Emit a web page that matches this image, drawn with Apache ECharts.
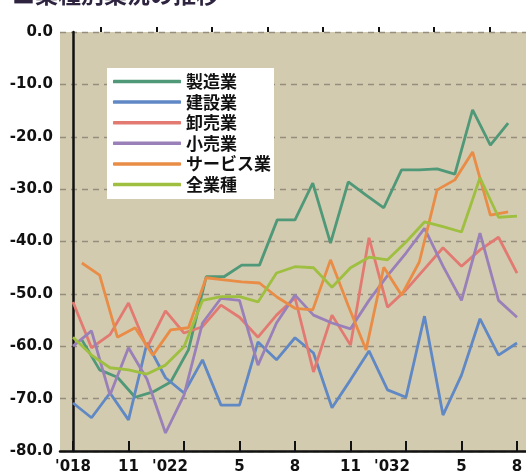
<!DOCTYPE html>
<html><head><meta charset="utf-8">
<script src="https://cdn.jsdelivr.net/npm/echarts@6/dist/echarts.min.js"></script>
<style>html,body{margin:0;padding:0;background:#fff}#c{width:526px;height:475px}</style>
</head><body><div id="c"></div>
<script>
const months = ['2001/08','2001/09','2001/10','2001/11','2001/12','2002/01','2002/02','2002/03','2002/04','2002/05','2002/06','2002/07','2002/08','2002/09','2002/10','2002/11','2002/12','2003/01','2003/02','2003/03','2003/04','2003/05','2003/06','2003/07','2003/08'];
const tickLabels = ["'018","11","'022","5","8","11","'032","5","8"];
const seriesNames = ['製造業','建設業','卸売業','小売業','サービス業','全業種'];

const manufacturing = [-58.5,-64.2,-65.6,-69.4,-68.4,-66.5,-60.4,-46.5,-46.5,-44.3,-44.3,-35.7,-35.7,-28.7,-40.1,-28.5,-31,-33.4,-26.2,-26.2,-26,-27,-14.8,-21.5,-17.3];
const construction = [-70.5,-73.3,-68.6,-73.7,-59.1,-65.7,-68.6,-62.3,-70.9,-70.9,-58.9,-62.3,-58.1,-61,-71.4,-66.1,-60.6,-68,-69.4,-54,-72.8,-65.2,-54.5,-61.4,-59.1];
const wholesale = [-51.3,-60,-57.5,-51.5,-60,-53,-57.2,-56,-51.9,-54.2,-58,-53.8,-50.5,-64.6,-53.8,-59.5,-39.1,-52.3,-49,-45,-41,-44.5,-41.4,-39,-45.8];
const retail = [-59.7,-56.8,-69,-60,-66,-76.2,-69,-55.3,-50.6,-51,-63.3,-55.3,-50,-53.8,-55.3,-56.4,-51,-46.3,-42,-37.3,-44.5,-51,-38.2,-51,-54.2];
const services = [-43.9,-46.2,-58,-56.2,-61.4,-56.6,-56.2,-46.7,-47.1,-47.5,-47.7,-50.4,-52.5,-52.8,-43.3,-52,-60.4,-44.7,-50,-43.7,-30,-28.1,-22.8,-34.8,-34.2];
const allIndustries = [-58,-61.4,-63.8,-64.2,-65,-63.3,-59.8,-51,-50.3,-50.3,-51.3,-45.8,-44.6,-44.8,-48.5,-44.8,-42.8,-43.3,-39.9,-36.1,-37,-38,-27.7,-35.2,-35];

const colors = ['#4f9878','#5f88c4','#e27a72','#9a80b9','#e98c46','#9ebf40'];

const majorTicks = [0,3,6,9,12,15,18,21,24];
const minorTicks = [1.5,4.5,7.5,10.5,13.5,16.5,19.5,22.5];

const chart = echarts.init(document.getElementById('c'));
const cjk = '"Noto Sans CJK JP", sans-serif';
const numFont = '"DejaVu Sans", sans-serif';

function lineSeries(name, data, color, xi) {
  return {
    name, type: 'line', data, xAxisIndex: xi, yAxisIndex: 1,
    symbol: 'none', lineStyle: { color, width: 2.8 }, itemStyle: { color },
    animation: false
  };
}

chart.setOption({
  animation: false,
  graphic: [{
    type: 'text', x: 12, y: -17,
    style: { text: '■業種別業況の推移', fill: '#2e2440', font: 'bold 23px ' + cjk, textVerticalAlign: 'top' }
  }],
  grid: [
    { left: 60, right: 0, top: 32, bottom: 22, show: true, backgroundColor: '#d3cbb0', borderWidth: 0 },
    { left: 73, right: 9, top: 32, bottom: 22 }
  ],
  legend: {
    left: 107, top: 68, orient: 'vertical',
    backgroundColor: '#ffffff', padding: [5, 3, 6, 6],
    itemWidth: 68, itemHeight: 3.5, itemGap: 3.6, icon: 'roundRect',
    textStyle: { color: '#111', fontSize: 17, fontWeight: 'bold', fontFamily: cjk, lineHeight: 17 },
    data: seriesNames
  },
  xAxis: [
    {
      type: 'value', gridIndex: 0, position: 'bottom', min: -13 / 18.5, max: 453 / 18.5,
      axisLine: { show: true, onZero: false, lineStyle: { color: '#111', width: 2.5 } },
      axisTick: { show: true, inside: true, length: 10, customValues: majorTicks, lineStyle: { color: '#111', width: 2 } },
      axisLabel: {
        show: true, customValues: majorTicks, margin: 9,
        color: '#111', fontSize: 15, fontWeight: 'bold', fontFamily: numFont, lineHeight: 15,
        formatter: v => {
          const t = tickLabels[Math.round(v / 3)];
          return t.length > 2 && v > 0 ? '{s|' + t + '}' : t;
        },
        rich: { s: { fontSize: 15, fontWeight: 'bold', fontFamily: numFont, color: '#111', padding: [0, 28, 0, 0], lineHeight: 15 } }
      },
      splitLine: { show: false }
    },
    {
      type: 'value', gridIndex: 0, position: 'bottom', min: -13 / 18.5, max: 453 / 18.5,
      axisLine: { show: false },
      axisTick: { show: true, inside: true, length: 5, customValues: minorTicks, lineStyle: { color: '#111', width: 2 } },
      axisLabel: { show: false },
      splitLine: { show: false }
    },
    { type: 'category', gridIndex: 1, data: months, boundaryGap: false, show: false },
    { type: 'category', gridIndex: 1, data: months, boundaryGap: true, show: false }
  ],
  yAxis: [
    {
      type: 'value', gridIndex: 0, min: -80, max: 0, interval: 10,
      axisLine: { show: true, lineStyle: { color: '#111', width: 2.5 } },
      axisTick: { show: false },
      axisLabel: { color: '#111', fontSize: 15, fontWeight: 'bold', fontFamily: numFont, margin: 7, formatter: v => v.toFixed(1) },
      splitLine: { show: true, lineStyle: { color: '#958e7e', width: 1.3, type: [6, 5] } }
    },
    { type: 'value', gridIndex: 1, min: -80, max: 0, show: false, splitLine: { show: false } }
  ],
  series: [
    lineSeries('製造業', manufacturing, colors[0], 3),
    lineSeries('建設業', construction, colors[1], 2),
    lineSeries('卸売業', wholesale, colors[2], 2),
    lineSeries('小売業', retail, colors[3], 2),
    lineSeries('サービス業', services, colors[4], 3),
    lineSeries('全業種', allIndustries, colors[5], 2)
  ]
});
</script></body></html>
